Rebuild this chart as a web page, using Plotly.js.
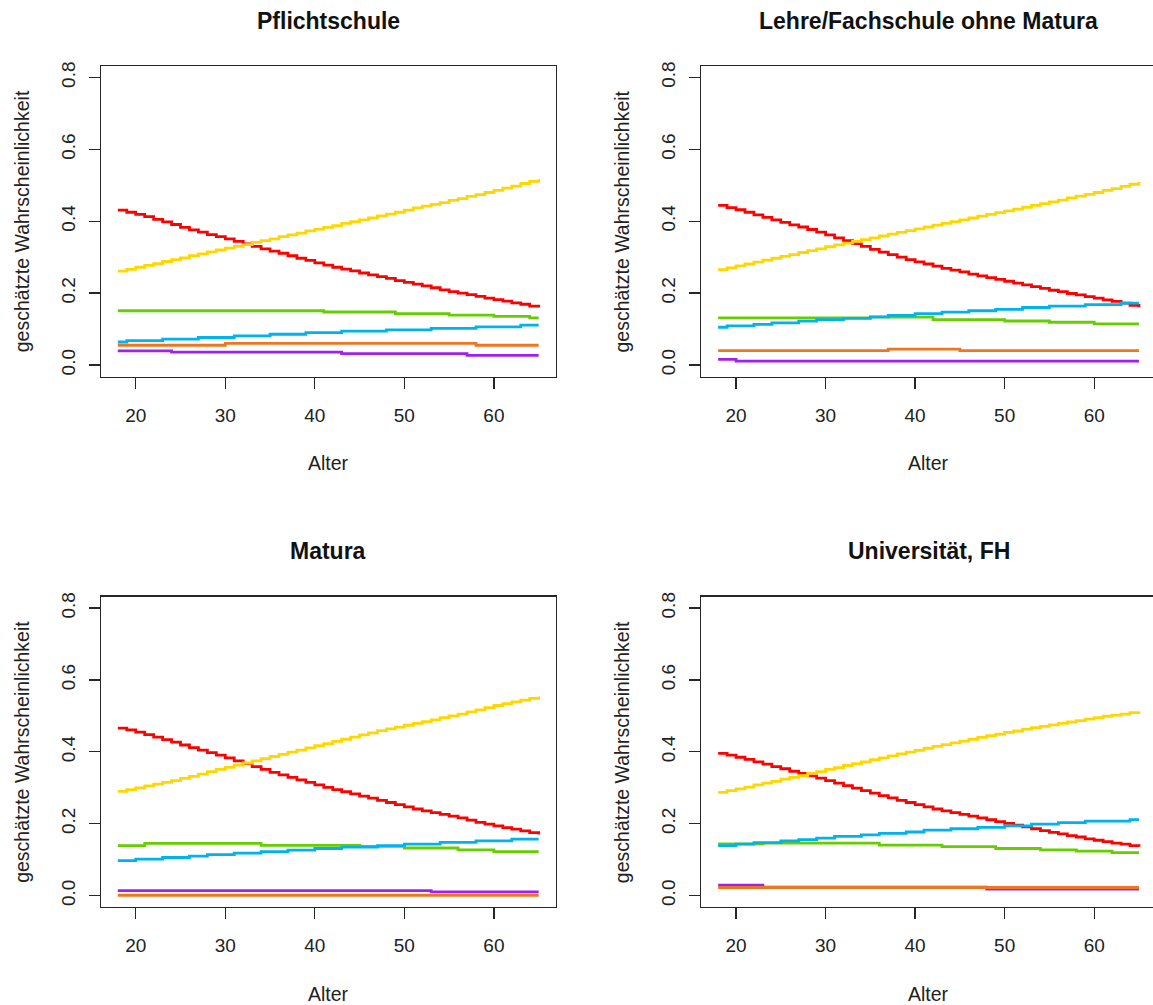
<!DOCTYPE html>
<html>
<head>
<meta charset="utf-8">
<script src="https://cdn.plot.ly/plotly-3.0.1.min.js"></script>
<style>
html, body { margin: 0; padding: 0; background: #ffffff; overflow: hidden; }
#chart { width: 1160px; height: 1005px; }
</style>
</head>
<body>
<div id="chart"></div>
<script>
// ---------- data ----------
const ages = [18,19,20,21,22,23,24,25,26,27,28,29,30,31,32,33,34,35,36,37,38,39,40,41,42,43,44,45,46,47,48,49,50,51,52,53,54,55,56,57,58,59,60,61,62,63,64,65];

const panelTitles = ["Pflichtschule", "Lehre/Fachschule ohne Matura", "Matura", "Universität, FH"];
const xTickVals = [20, 30, 40, 50, 60];
const yTickVals = [0, 0.2, 0.4, 0.6, 0.8];
const yTickText = ["0.0", "0.2", "0.4", "0.6", "0.8"];
const xLabel = "Alter";
const yLabel = "geschätzte Wahrscheinlichkeit";

// Panel 1: Pflichtschule
const p1_red = [0.431,0.425,0.419,0.413,0.405,0.398,0.391,0.383,0.376,0.370,
  0.363,0.357,0.351,0.344,0.337,0.330,0.323,0.317,0.311,0.304,
  0.297,0.291,0.284,0.278,0.272,0.267,0.262,0.256,0.251,0.246,
  0.241,0.235,0.230,0.225,0.220,0.215,0.209,0.204,0.200,0.196,
  0.191,0.186,0.182,0.178,0.173,0.169,0.164,0.160];
const p1_gold = [0.261,0.266,0.272,0.277,0.282,0.288,0.293,0.298,0.304,0.309,
  0.315,0.320,0.325,0.330,0.335,0.341,0.346,0.351,0.357,0.362,
  0.367,0.373,0.378,0.383,0.388,0.394,0.399,0.404,0.409,0.415,
  0.420,0.425,0.431,0.437,0.442,0.447,0.452,0.458,0.463,0.469,
  0.474,0.480,0.486,0.492,0.498,0.505,0.511,0.517];
const p1_green = [0.151,0.151,0.151,0.151,0.151,0.151,0.151,0.151,0.151,0.151,
  0.151,0.151,0.151,0.151,0.151,0.151,0.151,0.151,0.151,0.151,
  0.151,0.151,0.151,0.1475,0.1475,0.1475,0.1475,0.1475,0.1475,0.1475,
  0.1475,0.143,0.143,0.143,0.143,0.143,0.143,0.139,0.139,0.139,
  0.139,0.139,0.1355,0.1355,0.1355,0.1355,0.131,0.131];
const p1_blue = [0.064,0.068,0.068,0.068,0.068,0.072,0.072,0.072,0.072,0.0765,
  0.0765,0.0765,0.0765,0.081,0.081,0.081,0.081,0.0855,0.0855,0.0855,
  0.0855,0.090,0.090,0.090,0.090,0.094,0.094,0.094,0.094,0.094,
  0.098,0.098,0.098,0.098,0.098,0.102,0.102,0.102,0.102,0.102,
  0.106,0.106,0.106,0.106,0.106,0.111,0.111,0.111];
const p1_purple = [0.0395,0.0395,0.0395,0.0395,0.0395,0.0395,0.036,0.036,0.036,0.036,
  0.036,0.036,0.036,0.036,0.036,0.036,0.036,0.036,0.036,0.036,
  0.036,0.036,0.036,0.036,0.036,0.0315,0.0315,0.0315,0.0315,0.0315,
  0.0315,0.0315,0.0315,0.0315,0.0315,0.0315,0.0315,0.0315,0.0315,0.027,
  0.027,0.027,0.027,0.027,0.027,0.027,0.027,0.027];
const p1_orange = [0.055,0.055,0.055,0.055,0.055,0.055,0.055,0.055,0.055,0.055,
  0.055,0.055,0.060,0.060,0.060,0.060,0.060,0.060,0.060,0.060,
  0.060,0.060,0.060,0.060,0.060,0.060,0.060,0.060,0.060,0.060,
  0.060,0.060,0.060,0.060,0.060,0.060,0.060,0.060,0.060,0.060,
  0.055,0.055,0.055,0.055,0.055,0.055,0.055,0.055];

// Panel 2: Lehre/Fachschule ohne Matura
const p2_red = [0.444,0.438,0.432,0.425,0.418,0.411,0.404,0.397,0.390,0.384,
  0.377,0.370,0.362,0.354,0.346,0.338,0.330,0.322,0.314,0.307,
  0.300,0.293,0.287,0.281,0.275,0.269,0.264,0.259,0.253,0.248,
  0.243,0.238,0.233,0.228,0.223,0.218,0.213,0.208,0.204,0.199,
  0.195,0.190,0.186,0.181,0.177,0.172,0.166,0.161];
const p2_gold = [0.265,0.270,0.276,0.281,0.286,0.292,0.297,0.302,0.307,0.313,
  0.318,0.323,0.329,0.334,0.339,0.344,0.349,0.354,0.359,0.364,
  0.369,0.374,0.379,0.384,0.389,0.394,0.399,0.404,0.409,0.414,
  0.419,0.424,0.429,0.434,0.439,0.444,0.449,0.454,0.459,0.465,
  0.470,0.475,0.480,0.486,0.491,0.497,0.503,0.509];
const p2_green = [0.131,0.131,0.131,0.131,0.131,0.131,0.131,0.131,0.131,0.131,
  0.131,0.131,0.131,0.131,0.131,0.131,0.131,0.133,0.133,0.133,
  0.133,0.133,0.133,0.133,0.1265,0.1265,0.1265,0.1265,0.1265,0.1265,
  0.1265,0.1265,0.1225,0.1225,0.1225,0.1225,0.1225,0.119,0.119,0.119,
  0.119,0.119,0.1145,0.1145,0.1145,0.1145,0.1145,0.1145];
const p2_blue = [0.105,0.109,0.109,0.109,0.113,0.113,0.117,0.117,0.117,0.122,
  0.122,0.126,0.126,0.126,0.130,0.130,0.130,0.134,0.134,0.138,
  0.138,0.138,0.143,0.143,0.143,0.147,0.147,0.147,0.151,0.151,
  0.151,0.155,0.155,0.155,0.160,0.160,0.160,0.164,0.164,0.164,
  0.164,0.168,0.168,0.168,0.168,0.172,0.172,0.172];
const p2_purple = [0.0155,0.0155,0.011,0.011,0.011,0.011,0.011,0.011,0.011,0.011,
  0.011,0.011,0.011,0.011,0.011,0.011,0.011,0.011,0.011,0.011,
  0.011,0.011,0.011,0.011,0.011,0.011,0.011,0.011,0.011,0.011,
  0.011,0.011,0.011,0.011,0.011,0.011,0.011,0.011,0.011,0.011,
  0.011,0.011,0.011,0.011,0.011,0.011,0.011,0.011];
const p2_orange = [0.040,0.040,0.040,0.040,0.040,0.040,0.040,0.040,0.040,0.040,
  0.040,0.040,0.040,0.040,0.040,0.040,0.040,0.040,0.040,0.044,
  0.044,0.044,0.044,0.044,0.044,0.044,0.044,0.040,0.040,0.040,
  0.040,0.040,0.040,0.040,0.040,0.040,0.040,0.040,0.040,0.040,
  0.040,0.040,0.040,0.040,0.040,0.040,0.040,0.040];

// Panel 3: Matura
const p3_red = [0.466,0.461,0.455,0.448,0.441,0.434,0.427,0.419,0.412,0.405,
  0.398,0.391,0.383,0.375,0.367,0.359,0.351,0.343,0.336,0.329,
  0.322,0.315,0.308,0.301,0.295,0.289,0.283,0.277,0.271,0.265,
  0.259,0.253,0.247,0.241,0.236,0.231,0.226,0.221,0.216,0.210,
  0.204,0.199,0.194,0.189,0.185,0.180,0.175,0.170];
const p3_gold = [0.290,0.295,0.300,0.305,0.310,0.315,0.320,0.326,0.332,0.338,
  0.345,0.351,0.357,0.363,0.369,0.375,0.381,0.387,0.393,0.399,
  0.405,0.411,0.417,0.423,0.429,0.435,0.441,0.447,0.453,0.459,
  0.464,0.469,0.474,0.479,0.484,0.489,0.495,0.500,0.505,0.511,
  0.517,0.523,0.529,0.534,0.539,0.544,0.549,0.554];
const p3_green = [0.139,0.139,0.139,0.1455,0.1455,0.1455,0.1455,0.1455,0.1455,0.1455,
  0.1455,0.1455,0.1455,0.1455,0.1455,0.1455,0.140,0.140,0.140,0.140,
  0.140,0.140,0.140,0.140,0.140,0.140,0.140,0.137,0.137,0.137,
  0.137,0.137,0.1325,0.1325,0.1325,0.1325,0.1325,0.1325,0.1275,0.1275,
  0.1275,0.1275,0.1225,0.1225,0.1225,0.1225,0.1225,0.1225];
const p3_blue = [0.0975,0.0975,0.1015,0.1015,0.1015,0.106,0.106,0.106,0.110,0.110,
  0.114,0.114,0.114,0.118,0.118,0.118,0.1225,0.1225,0.1225,0.1265,
  0.1265,0.1265,0.131,0.131,0.131,0.135,0.135,0.135,0.135,0.139,
  0.139,0.139,0.1435,0.1435,0.1435,0.1435,0.148,0.148,0.148,0.148,
  0.152,0.152,0.152,0.152,0.157,0.157,0.157,0.157];
const p3_purple = [0.014,0.014,0.014,0.014,0.014,0.014,0.014,0.014,0.014,0.014,
  0.014,0.014,0.014,0.014,0.014,0.014,0.014,0.014,0.014,0.014,
  0.014,0.014,0.014,0.014,0.014,0.014,0.014,0.014,0.014,0.014,
  0.014,0.014,0.014,0.014,0.014,0.0105,0.0105,0.0105,0.0105,0.0105,
  0.0105,0.0105,0.0105,0.0105,0.0105,0.0105,0.0105,0.0105];
const p3_orange = [0.001,0.001,0.001,0.001,0.001,0.001,0.001,0.001,0.001,0.001,
  0.001,0.001,0.001,0.001,0.001,0.001,0.001,0.001,0.001,0.001,
  0.001,0.001,0.001,0.001,0.001,0.001,0.001,0.001,0.001,0.001,
  0.001,0.001,0.001,0.001,0.001,0.001,0.001,0.001,0.001,0.001,
  0.001,0.001,0.001,0.001,0.001,0.001,0.001,0.001];

// Panel 4: Universität, FH
const p4_red = [0.396,0.391,0.385,0.379,0.372,0.366,0.359,0.353,0.346,0.340,
  0.333,0.327,0.320,0.313,0.306,0.299,0.292,0.285,0.278,0.272,
  0.265,0.259,0.253,0.247,0.241,0.236,0.231,0.226,0.221,0.216,
  0.211,0.206,0.201,0.196,0.191,0.186,0.181,0.176,0.172,0.167,
  0.163,0.158,0.154,0.150,0.146,0.143,0.139,0.136];
const p4_gold = [0.287,0.292,0.297,0.302,0.308,0.313,0.318,0.324,0.329,0.334,
  0.340,0.345,0.351,0.356,0.362,0.367,0.372,0.378,0.383,0.389,
  0.394,0.399,0.404,0.410,0.415,0.420,0.425,0.430,0.435,0.440,
  0.445,0.449,0.454,0.458,0.463,0.467,0.471,0.475,0.479,0.483,
  0.487,0.491,0.495,0.499,0.502,0.505,0.509,0.512];
const p4_green = [0.144,0.144,0.144,0.144,0.144,0.146,0.146,0.146,0.146,0.146,
  0.146,0.146,0.146,0.146,0.146,0.146,0.146,0.146,0.1405,0.1405,
  0.1405,0.1405,0.1405,0.1405,0.1405,0.136,0.136,0.136,0.136,0.136,
  0.136,0.131,0.131,0.131,0.131,0.131,0.127,0.127,0.127,0.127,
  0.1235,0.1235,0.1235,0.1235,0.1195,0.1195,0.1195,0.1195];
const p4_blue = [0.139,0.139,0.1435,0.1435,0.1475,0.1475,0.1475,0.152,0.152,0.156,
  0.156,0.160,0.160,0.165,0.165,0.165,0.169,0.169,0.173,0.173,
  0.173,0.177,0.177,0.182,0.182,0.182,0.186,0.186,0.186,0.190,
  0.190,0.190,0.194,0.194,0.194,0.199,0.199,0.199,0.203,0.203,
  0.203,0.207,0.207,0.207,0.207,0.207,0.2115,0.2115];
const p4_purple = [0.029,0.029,0.029,0.029,0.029,0.0235,0.0235,0.0235,0.0235,0.0235,
  0.0235,0.0235,0.0235,0.0235,0.0235,0.0235,0.0235,0.0235,0.0235,0.0235,
  0.0235,0.0235,0.0235,0.0235,0.0235,0.0235,0.0235,0.0235,0.0235,0.0235,
  0.018,0.018,0.018,0.018,0.018,0.018,0.018,0.018,0.018,0.018,
  0.018,0.018,0.018,0.018,0.018,0.018,0.018,0.018];
const p4_orange = [0.0225,0.0225,0.0225,0.0225,0.0225,0.0225,0.0225,0.0225,0.0225,0.0225,
  0.0225,0.0225,0.0225,0.0225,0.0225,0.0225,0.0225,0.0225,0.0225,0.0225,
  0.0225,0.0225,0.0225,0.0225,0.0225,0.0225,0.0225,0.0225,0.0225,0.0225,
  0.0225,0.0225,0.0225,0.0225,0.0225,0.0225,0.0225,0.0225,0.0225,0.0225,
  0.0225,0.0225,0.0225,0.0225,0.0225,0.0225,0.0225,0.0225];

// ---------- build ----------
const seriesColors = ["#FF0000", "#FFD700", "#66CD00", "#00B2EE", "#A020F0", "#EE7621"];
const panels = [
  [p1_red, p1_gold, p1_green, p1_blue, p1_purple, p1_orange],
  [p2_red, p2_gold, p2_green, p2_blue, p2_purple, p2_orange],
  [p3_red, p3_gold, p3_green, p3_blue, p3_purple, p3_orange],
  [p4_red, p4_gold, p4_green, p4_blue, p4_purple, p4_orange]
];

const W = 1160, H = 1005;
// plot boxes in pixels [left, right, top, bottom]
const boxes = [
  [101, 555.5, 66, 376.5],
  [701.3, 1155.8, 66, 376.5],
  [101, 555.5, 596.6, 907.1],
  [701.3, 1155.8, 596.6, 907.1]
];

const traces = [];
panels.forEach((series, p) => {
  const ax = p === 0 ? "" : String(p + 1);
  series.forEach((vals, s) => {
    traces.push({
      type: "scatter", mode: "lines",
      x: ages, y: vals,
      xaxis: "x" + ax, yaxis: "y" + ax,
      line: { color: seriesColors[s], width: 2.8, shape: "hv" },
      hoverinfo: "skip", showlegend: false
    });
  });
});

const FONT = "Liberation Sans, Arial, sans-serif";
const axisCommon = {
  showgrid: false, zeroline: false,
  showline: true, mirror: true, linecolor: "#262626", linewidth: 1.3,
  ticks: "outside", ticklen: 11, tickwidth: 1.3, tickcolor: "#262626",
  tickfont: { family: FONT, size: 19, color: "#222222" },
  fixedrange: true
};

const layout = {
  width: W, height: H,
  margin: { l: 0, r: 0, t: 0, b: 0 },
  paper_bgcolor: "#ffffff", plot_bgcolor: "#ffffff",
  showlegend: false,
  annotations: []
};

boxes.forEach((b, p) => {
  const ax = p === 0 ? "" : String(p + 1);
  layout["xaxis" + ax] = Object.assign({}, axisCommon, {
    domain: [b[0] / W, b[1] / W],
    range: [16.12, 66.88],
    tickvals: xTickVals,
    ticklabelstandoff: 10,
    anchor: "y" + ax
  });
  layout["yaxis" + ax] = Object.assign({}, axisCommon, {
    domain: [(H - b[3]) / H, (H - b[2]) / H],
    range: [-0.032, 0.832],
    tickvals: yTickVals,
    ticktext: yTickText,
    tickangle: -90,
    ticklabelstandoff: 6,
    anchor: "x" + ax
  });
  const cx = (b[0] + b[1]) / 2 / W;
  const cy = (b[2] + b[3]) / 2;
  layout.annotations.push({
    xref: "paper", yref: "paper", x: cx, y: (H - (b[2] - 45.5)) / H,
    xanchor: "center", yanchor: "middle", showarrow: false,
    text: "<b>" + panelTitles[p] + "</b>",
    font: { family: FONT, size: 23, color: "#111111" }
  });
  layout.annotations.push({
    xref: "paper", yref: "paper", x: cx, y: (H - (b[3] + 86.5)) / H,
    xanchor: "center", yanchor: "middle", showarrow: false,
    text: xLabel,
    font: { family: FONT, size: 19.5, color: "#222222" }
  });
  layout.annotations.push({
    xref: "paper", yref: "paper", x: (b[0] - 79) / W, y: (H - cy) / H,
    xanchor: "center", yanchor: "middle", showarrow: false, textangle: -90,
    text: yLabel,
    font: { family: FONT, size: 19.5, color: "#222222" }
  });
});

Plotly.newPlot("chart", traces, layout, { displayModeBar: false, staticPlot: true });
</script>
</body>
</html>
